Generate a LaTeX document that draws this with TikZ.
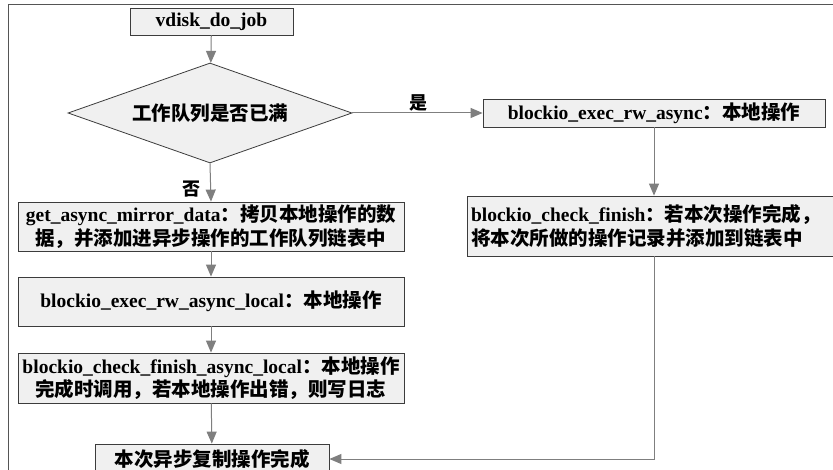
\documentclass[tikz,border=0pt]{standalone}
\usepackage{fontspec}
\setmainfont{Liberation Serif}
\newfontfamily\cjk{Noto Sans CJK SC}
\usetikzlibrary{shapes.geometric,arrows.meta}
\newcommand\zh[1]{{\cjk #1}}
\definecolor{boxfill}{HTML}{F0F0F0}
\definecolor{boxline}{HTML}{3C3C3C}
\definecolor{arrowgray}{HTML}{7F7F7F}
\definecolor{framegray}{HTML}{555555}
\tikzset{
  box/.style={draw=boxline, fill=boxfill, line width=0.8pt, inner sep=0pt,
    font=\fontsize{19.5}{23.5}\selectfont\bfseries},
  dia/.style={diamond, aspect=2.84, draw=boxline, fill=boxfill, line width=0.8pt, inner sep=0pt,
    font=\fontsize{19.5}{23.5}\selectfont\bfseries},
  flow/.style={draw=arrowgray, line width=1pt, -{Triangle[length=12pt,width=10pt]}},
  lbl/.style={inner sep=0pt, font=\fontsize{18}{20}\selectfont\bfseries},
}
\begin{document}
\begin{tikzpicture}[x=1pt,y=-1pt]
\useasboundingbox (0,0) rectangle (833,470);
\fill[white] (0,0) rectangle (833,470);
% outer frame
\draw[framegray, line width=1pt] (8,480) -- (8,5) -- (840,5);

\node[box, minimum width=163pt, minimum height=27pt] (job) at (211.5,21.5) {vdisk\_do\_job};
\node[dia, minimum width=284pt, minimum height=100pt] (q) at (210,113) {\zh{工作队列是否已满}};
\node[box, minimum width=342pt, minimum height=28pt] (async) at (654,113)
  {blockio\_exec\_rw\_async\zh{：本地操作}};
\node[box, minimum width=366pt, minimum height=60pt, text width=358pt, align=left] (fin) at (650,226)
  {blockio\_check\_finish\zh{：若本次操作完成，}\\\zh{将本次所做的操作记录并添加到链表中}};
\node[box, minimum width=386pt, minimum height=49pt, align=center] (get) at (211,226.5)
  {get\_async\_mirror\_data\zh{：拷贝本地操作的数}\\\zh{据，并添加进异步操作的工作队列链表中}};
\node[box, minimum width=386pt, minimum height=49pt] (loc) at (211,301.5)
  {blockio\_exec\_rw\_async\_local\zh{：本地操作}};
\node[box, minimum width=386pt, minimum height=50pt, align=center] (chk) at (211,378)
  {blockio\_check\_finish\_async\_local\zh{：本地操作}\\\zh{完成时调用，若本地操作出错，则写日志}};
\node[box, minimum width=234pt, minimum height=30pt] (done) at (212,459)
  {\zh{本次异步复制操作完成}};

\node[lbl] (yes) at (418,103) {\zh{是}};
\node[lbl] (no) at (191,189) {\zh{否}};

\draw[flow] (job) -- (q);
\draw[flow] (q.east) -- (async.west);
\draw[flow] (q.south) -- (get.north);
\draw[flow] (get) -- (loc);
\draw[flow] (loc) -- (chk);
\draw[flow] (chk) -- (done);
\draw[flow] (async.south) -- (async.south |- fin.north);
\coordinate (turn) at (async.south |- done.east);
\draw[flow] (async.south |- fin.south) -- (turn) -- (done.east);
\end{tikzpicture}
\end{document}
